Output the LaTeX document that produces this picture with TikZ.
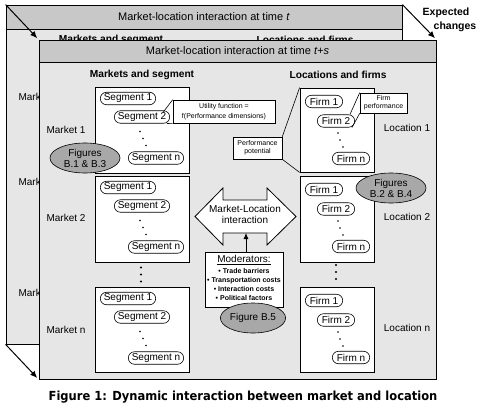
\documentclass[tikz,border=0pt]{standalone}
\usepackage{fontspec}
\setmainfont{Liberation Sans}
\newfontfamily\capfont[FakeStretch=0.92]{DejaVu Sans}
\usetikzlibrary{arrows.meta,calc,shapes.geometric}
\definecolor{bgf}{HTML}{E6E6E6}
\definecolor{hdf}{HTML}{C8C8C8}
\definecolor{elf}{HTML}{A8A8A8}
\begin{document}
\begin{tikzpicture}[x=1pt,y=-1pt,
 frame/.style={draw, fill=bgf, line width=0.8pt, inner sep=0pt},
 header/.style={draw, fill=hdf, line width=0.8pt, inner sep=0pt, font=\fontsize{11}{13}\selectfont},
 wbox/.style={draw, fill=white, line width=0.8pt, inner sep=0pt},
 pill/.style={draw, fill=white, rounded corners=6.2pt, minimum height=12.5pt, inner xsep=3.5pt, inner ysep=0pt, font=\fontsize{10}{11}\selectfont, line width=0.6pt},
 firm/.style={pill, inner xsep=4.5pt},
 fig/.style={ellipse, draw, fill=elf, inner sep=0pt, align=center, font=\fontsize{10}{11}\selectfont, line width=0.6pt},
 lbl/.style={font=\fontsize{10}{12}\selectfont},
 ttl/.style={font=\bfseries\fontsize{10.2}{12}\selectfont},
 callout/.style={draw, fill=white, align=center, inner sep=0pt, font=\fontsize{7}{8.3}\selectfont, line width=0.6pt},
 chg/.style={line width=1pt, -{Latex[length=7pt,width=6pt]}, shorten >=2pt},
 thin/.style={line width=0.6pt}
]
\useasboundingbox (0,0) rectangle (486,409);

% ---------- back frame (time t)
\node[frame, minimum width=396pt, minimum height=339pt] (back) at (204,174.5) {};
\node[header, minimum width=396pt, minimum height=24pt] (bhead) at (204,17) {Market-location interaction at time \textit{t}};
\node[ttl] (bms) at (111,39.6) {Markets and segment};
\node[ttl] (blf) at (305,39.6) {Locations and firms};
\node[lbl, anchor=west] (bm1) at (15,97) {Market 1};
\node[lbl, anchor=west] (bm2) at (15,182) {Market 2};
\node[lbl, anchor=west] (bm3) at (15,293) {Market n};

% ---------- front frame (time t+s)
\node[frame, minimum width=397pt, minimum height=339pt] (front) at (237.5,209.5) {};
\node[header, minimum width=397pt, minimum height=22pt] (fhead) at (237.5,51) {Market-location interaction at time \textit{t+s}};

\draw[chg] (back.north west) -- (front.north west);
\draw[chg] (back.north east) -- (front.north east);
\draw[chg] (back.south west) -- (front.south west);

\node[ttl] (fms) at (142,75) {Markets and segment};
\node[ttl] (flf) at (338,75) {Locations and firms};

\node[lbl] (m1) at (66,130) {Market 1};
\node[lbl] (m2) at (66,218) {Market 2};
\node[lbl] (m3) at (66,330) {Market n};
\node[lbl] (l1) at (407,128) {Location 1};
\node[lbl] (l2) at (407,217) {Location 2};
\node[lbl] (l3) at (407,328) {Location n};

% segment boxes
\node[wbox, minimum width=94pt, minimum height=86pt] (sb1) at (142,130) {};
\node[wbox, minimum width=94pt, minimum height=86pt] (sb2) at (142,219) {};
\node[wbox, minimum width=94pt, minimum height=85pt] (sb3) at (142,329.5) {};
% firm boxes
\node[wbox, minimum width=74pt, minimum height=84pt] (fb1) at (337,130) {};
\node[wbox, minimum width=74pt, minimum height=86pt] (fb2) at (337,219) {};
\node[wbox, minimum width=74pt, minimum height=85pt] (fb3) at (337,329.5) {};

\foreach \i/\T in {1/87,2/176,3/287}{
  \node[pill] (s\i a) at (128,\T+11.5) {Segment 1};
  \node[pill] (s\i b) at (142,\T+30) {Segment 2};
  \node[pill] (s\i n) at (156,\T+71) {Segment n};
  \fill (140,\T+44.5) circle (0.9pt) (143,\T+51.5) circle (0.9pt) (146,\T+58.5) circle (0.9pt);
}
\foreach \i/\T in {1/88,2/176,3/287}{
  \node[firm] (f\i a) at (324,\T+13.5) {Firm 1};
  \node[firm] (f\i b) at (336,\T+33) {Firm 2};
  \node[firm] (f\i n) at (351,\T+70.5) {Firm n};
  \fill (338,\T+45) circle (0.9pt) (340,\T+52) circle (0.9pt) (343,\T+59) circle (0.9pt);
}
% dots between boxes
\fill (141,267.5) circle (1.2pt) (141,274.5) circle (1.2pt) (141,281.5) circle (1.2pt);
\fill (336,265) circle (1.2pt) (336,272) circle (1.2pt) (336,279) circle (1.2pt);

% callouts
\node[callout, minimum width=102pt, minimum height=23pt, font=\fontsize{7}{10.5}\selectfont] (util) at (224,111.5) {Utility function =\\f(Performance dimensions)};
\draw[thin] ($(s1b.north east)+(-7,2)$) -- (util.north west);
\draw[thin] ($(s1b.south east)+(-3,0)$) -- (util.south west);

\node[callout, minimum width=47pt, minimum height=20pt] (fperf) at (383.5,103) {Firm\\performance};
\draw[thin] ($(f1b.north east)+(-5,0)$) -- (fperf.north west);
\draw[thin] ($(f1b.south east)+(-3,0)$) -- (fperf.south west);

\node[callout, minimum width=49pt, minimum height=22pt] (ppot) at (257.5,148) {Performance\\potential};
\draw[thin] (ppot.north east) -- (fb1.north west);
\draw[thin] (ppot.south east) -- (fb1.south west);

% double arrow
\draw[fill=white, line width=0.8pt] (195,216.5) -- (223,188) -- (223,200) -- (267,200) -- (267,188) -- (296,216.5) -- (267,245) -- (267,233) -- (223,233) -- (223,245) -- cycle;
\node[align=center, font=\fontsize{10}{11}\selectfont] (mli) at (245,214) {Market-Location\\interaction};
\coordinate (abot) at (246,233);

% moderators
\node[wbox, minimum width=78pt, minimum height=55pt] (mod) at (244,279.5) {};
\node[font=\fontsize{10}{11}\selectfont, inner sep=0pt] (modt) at (244,260) {\underline{Moderators:}};
\node[align=center, inner sep=0pt, font=\bfseries\fontsize{7}{9.3}\selectfont] (modl) at (244,284.5) {• Trade barriers\\• Transportation costs\\• Interaction costs\\• Political factors};
\draw[line width=0.8pt, -{Latex[length=6pt,width=5pt]}] (abot |- mod.north) -- (abot);

% figure ellipses
\node[fig, minimum width=70pt, minimum height=30pt] (fig13) at (85,158) {Figures\\B.1 \& B.3};
\node[fig, minimum width=70pt, minimum height=30pt] (fig24) at (391,188) {Figures\\B.2 \& B.4};
\node[fig, minimum width=62pt, minimum height=30pt] (fig5) at (253,318) {Figure B.5};

% expected changes
\node[font=\bfseries\fontsize{10.5}{12}\selectfont] (ex1) at (446,13) {Expected};
\node[font=\bfseries\fontsize{10.5}{12}\selectfont] (ex2) at (455,27) {changes};

% caption
\node[font=\capfont\bfseries\fontsize{12.5}{14}\selectfont] (cap) at (243,397) {Figure 1: Dynamic interaction between market and location};
\end{tikzpicture}
\end{document}
